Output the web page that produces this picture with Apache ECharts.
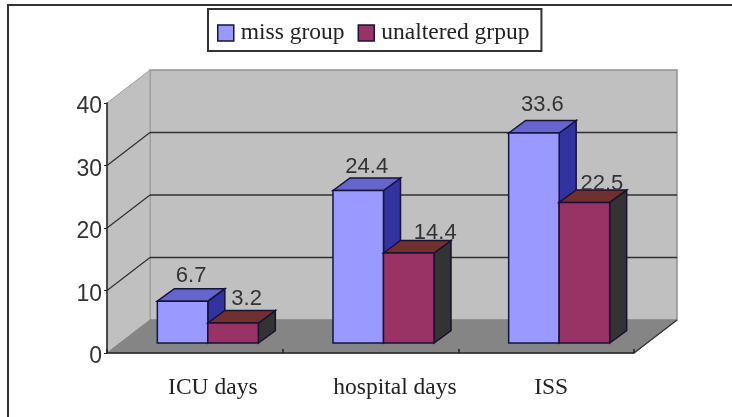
<!DOCTYPE html>
<html><head><meta charset="utf-8">
<style>html,body{margin:0;padding:0;background:#fff}#c{width:732px;height:417px}</style>
<script src="https://cdn.jsdelivr.net/npm/echarts@6/dist/echarts.min.js"></script>
</head><body><div id="c"></div>
<script>
const categories = ['ICU days', 'hospital days', 'ISS'];
const missGroup = [6.7, 24.4, 33.6];
const unalteredGroup = [3.2, 14.4, 22.5];
const yTicks = [0, 10, 20, 30, 40];

// layout / style constants
const SERIF = '"Liberation Serif", serif';
const SANS = '"Liberation Sans", sans-serif';
const WALL = { dx: 43, dy: -33 };
const BAR_FRONT = { dx: 13, dy: -10 };
const BAR_DEPTH = { dx: 17, dy: -12.5 };
const BAR_BAND = 0.2875;
const missStyle = { front: '#9999ff', top: '#6565cc', side: '#3333a0', edge: '#14143c' };
const redStyle = { front: '#993366', top: '#70302f', side: '#333333', edge: '#1c1030' };
const missNudge = [[0, -15], [0, -13], [0, -18]];
const redNudge = [[5, -14], [18, -10], [9, -8]];
const catLabelPad = [36, 49, 10];

function poly(points, fill, stroke, lw) {
  return { type: 'polygon', shape: { points }, style: { fill, stroke: stroke || fill, lineWidth: lw === undefined ? 1 : lw } };
}
function seg(a, b, stroke, lw) {
  return { type: 'line', shape: { x1: a[0], y1: a[1], x2: b[0], y2: b[1] }, style: { stroke, lineWidth: lw, fill: null } };
}

function renderFrame(params, api) {
  const g = params.coordSys;
  const L = g.x, R = g.x + g.width;
  const y0 = api.coord([0, yTicks[0]])[1];
  const yT = api.coord([0, yTicks[yTicks.length - 1]])[1];
  const d = WALL;
  const kids = [
    poly([[L + d.dx, yT + d.dy], [R + d.dx, yT + d.dy], [R + d.dx, y0 + d.dy], [L + d.dx, y0 + d.dy]], '#c0c0c0', '#909090', 1.5),
    poly([[L, yT], [L + d.dx, yT + d.dy], [L + d.dx, y0 + d.dy], [L, y0]], '#c0c0c0', '#a0a0a0', 1),
    poly([[L, y0], [R, y0], [R + d.dx, y0 + d.dy], [L + d.dx, y0 + d.dy]], '#858585', '#858585', 1)
  ];
  yTicks.slice(1, -1).forEach(t => {
    const y = api.coord([0, t])[1];
    kids.push(seg([L + d.dx, y + d.dy], [R + d.dx, y + d.dy], '#303030', 1.4));
    kids.push(seg([L, y], [L + d.dx, y + d.dy], '#303030', 1.2));
  });
  kids.push(seg([R, y0], [R + d.dx, y0 + d.dy], '#303030', 1.2));
  return { type: 'group', children: kids };
}

function barRenderer(seriesPos, style, nudge) {
  return function (params, api) {
    const i = params.dataIndex;
    const v = api.value(1);
    const c0 = api.coord([i, 0]);
    const c1 = api.coord([i, v]);
    const w = api.size([1, 0])[0] * BAR_BAND;
    const x0 = c0[0] + BAR_FRONT.dx + (seriesPos - 1) * w;
    const x1 = x0 + w;
    const yb = c0[1] + BAR_FRONT.dy;
    const yt = c1[1] + BAR_FRONT.dy;
    const d = BAR_DEPTH;
    const lw = 1.5;
    return {
      type: 'group',
      children: [
        poly([[x1, yt], [x1 + d.dx, yt + d.dy], [x1 + d.dx, yb + d.dy], [x1, yb]], style.side, style.edge, lw),
        poly([[x0, yt], [x0 + d.dx, yt + d.dy], [x1 + d.dx, yt + d.dy], [x1, yt]], style.top, style.edge, lw),
        poly([[x0, yt], [x1, yt], [x1, yb], [x0, yb]], style.front, style.edge, lw),
        {
          type: 'text', z2: 20,
          style: {
            x: (x0 + x1 + d.dx) / 2 + nudge[i][0],
            y: yt + d.dy + nudge[i][1] + 2,
            text: v.toFixed(1), fill: '#333', font: '22px ' + SANS,
            align: 'center', verticalAlign: 'middle'
          }
        }
      ]
    };
  };
}

const chart = echarts.init(document.getElementById('c'), null, { renderer: 'canvas' });
chart.setOption({
  animation: false,
  backgroundColor: '#fff',
  graphic: [{
    type: 'polyline', silent: true,
    shape: { points: [[8, 417], [8, 5], [732, 5]] },
    style: { stroke: '#333', lineWidth: 2, fill: null }
  }],
  legend: {
    data: ['miss group', 'unaltered grpup'],
    left: 208, top: 9,
    padding: [12, 12, 6, 9],
    itemGap: 13, itemWidth: 16, itemHeight: 16,
    borderColor: '#333', borderWidth: 2, backgroundColor: '#fff',
    icon: 'rect',
    itemStyle: { borderColor: '#14143c', borderWidth: 1.5 },
    textStyle: { fontFamily: SERIF, fontSize: 23.5, color: '#222', padding: [0, 0, 0, 2] }
  },
  grid: { left: 107, right: 98, top: 103, bottom: 64 },
  xAxis: {
    type: 'category',
    data: categories.map((c, i) => ({ value: c, textStyle: { padding: [0, 0, 0, catLabelPad[i]] } })),
    z: 5,
    axisLine: { lineStyle: { color: '#222', width: 1.5 } },
    axisTick: { show: true, inside: true, length: 4, lineStyle: { color: '#222', width: 1.5 } },
    axisLabel: { margin: 23, fontFamily: SERIF, fontSize: 23.5, color: '#222' }
  },
  yAxis: {
    type: 'value', min: 0, max: 40, interval: 10, z: 5,
    splitLine: { show: false },
    axisLine: { show: true, lineStyle: { color: '#222', width: 1.5 } },
    axisTick: { show: true, length: 3, lineStyle: { color: '#222' } },
    axisLabel: { margin: 5, fontFamily: SANS, fontSize: 23, color: '#333', verticalAlign: 'top', lineHeight: 8 }
  },
  series: [
    { type: 'custom', name: 'frame', z: 1, silent: true, data: [[0, 0]], renderItem: renderFrame },
    {
      type: 'custom', name: 'miss group', z: 2, itemStyle: { color: missStyle.front },
      data: missGroup.map((v, i) => [i, v]), encode: { x: 0, y: 1 },
      renderItem: barRenderer(0, missStyle, missNudge)
    },
    {
      type: 'custom', name: 'unaltered grpup', z: 3, itemStyle: { color: redStyle.front },
      data: unalteredGroup.map((v, i) => [i, v]), encode: { x: 0, y: 1 },
      renderItem: barRenderer(1, redStyle, redNudge)
    }
  ]
});
</script></body></html>
